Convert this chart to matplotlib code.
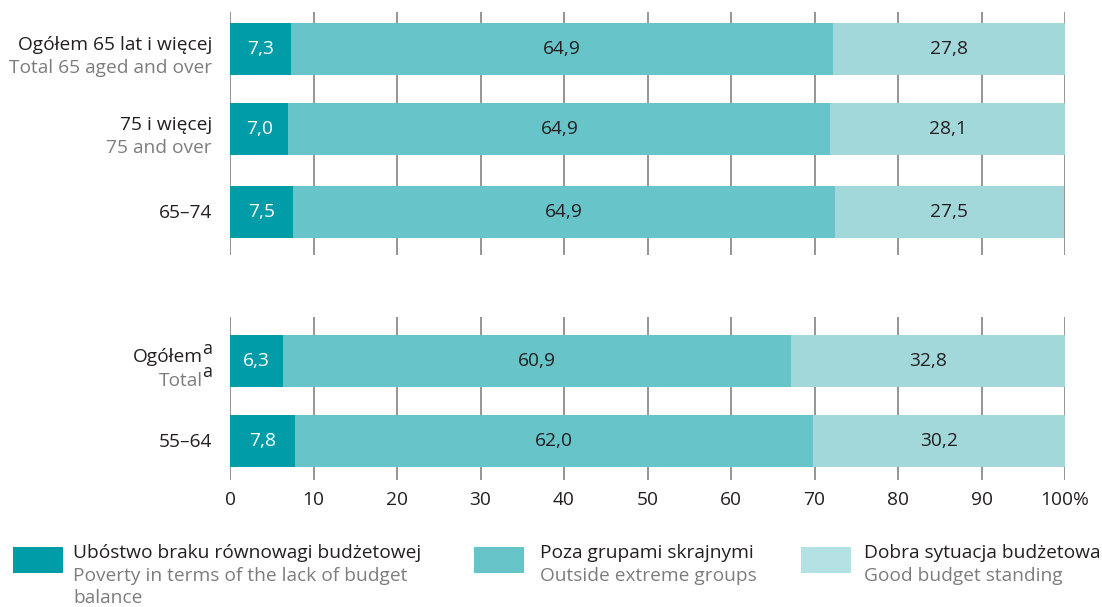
import matplotlib
matplotlib.use("Agg")
import matplotlib.pyplot as plt
from matplotlib.patches import Rectangle

plt.rcParams['font.family'] = ['Open Sans', 'DejaVu Sans']

# data
labels_pl = ["Ogółem 65 lat i więcej", "75 i więcej", "65–74", "Ogółem", "55–64"]
labels_en = ["Total 65 aged and over", "75 and over", "", "Total", ""]
footnote = ["", "", "", "a", ""]
poverty = [7.3, 7.0, 7.5, 6.3, 7.8]
outside = [64.9, 64.9, 64.9, 60.9, 62.0]
good = [27.8, 28.1, 27.5, 32.8, 30.2]
ticks = [0, 10, 20, 30, 40, 50, 60, 70, 80, 90, 100]
tick_labels = ["0", "10", "20", "30", "40", "50", "60", "70", "80", "90", "100%"]
legend_pl = ["Ubóstwo braku równowagi budżetowej", "Poza grupami skrajnymi", "Dobra sytuacja budżetowa"]
legend_en = ["Poverty in terms of the lack of budget\nbalance", "Outside extreme groups", "Good budget standing"]

c_dark = "#009ca8"
c_mid = "#67c4c9"
c_light = "#a3d8db"
c_legend_light = "#b4e1e4"
txt_dark = "#231f20"
txt_grey = "#7d7d7d"
grid_c = "#8c8c8c"
fs = 13.8

W, H = 1102, 607
fig = plt.figure(figsize=(W / 100, H / 100), dpi=100)

# row positions (gap between two groups)
ypos = [0, 0.99, 2.02, 3.88, 4.87]
unit = 80.5
top_px, bot_px, first_px = 12, 480, 49
ylim_top = -(first_px - top_px) / unit
ylim_bot = (bot_px - first_px) / unit

ax = fig.add_axes([230 / W, 1 - bot_px / H, (1065 - 230) / W, (bot_px - top_px) / H])
ax.set_xlim(0, 100)
ax.set_ylim(ylim_bot, ylim_top)
for s in ax.spines.values():
    s.set_visible(False)
ax.set_yticks([])
ax.set_xticks(ticks)
ax.set_xticklabels(tick_labels, fontsize=fs, color=txt_dark)
ax.tick_params(axis='x', length=0, pad=8)

# broken gridlines
brk1 = (255 - first_px) / unit
brk2 = (317 - first_px) / unit
ax.vlines(ticks, ylim_top, brk1, color=grid_c, lw=1.3, zorder=0)
ax.vlines(ticks, brk2, ylim_bot, color=grid_c, lw=1.3, zorder=0)

bh = 52 / unit
left2 = [a + b for a, b in zip(poverty, outside)]
ax.barh(ypos, poverty, height=bh, color=c_dark, zorder=2)
ax.barh(ypos, outside, left=poverty, height=bh, color=c_mid, zorder=2)
ax.barh(ypos, good, left=left2, height=bh, color=c_light, zorder=2)

def fmt(v):
    return f"{v:.1f}".replace(".", ",")

for i, y in enumerate(ypos):
    ax.text(poverty[i] / 2, y, fmt(poverty[i]), ha='center', va='center', color='white', fontsize=fs)
    ax.text(poverty[i] + outside[i] / 2, y, fmt(outside[i]), ha='center', va='center', color=txt_dark, fontsize=fs)
    ax.text(left2[i] + good[i] / 2, y, fmt(good[i]), ha='center', va='center', color=txt_dark, fontsize=fs)
    sx = -13
    if footnote[i]:
        ax.annotate(footnote[i], xy=(0, y), xytext=(-13, 9), textcoords='offset points',
                    ha='right', va='center', fontsize=fs - 1, color=txt_dark)
        ax.annotate(footnote[i], xy=(0, y), xytext=(-13, -8), textcoords='offset points',
                    ha='right', va='center', fontsize=fs - 1, color=txt_dark)
        sx = -19.5
    if labels_en[i]:
        ax.annotate(labels_pl[i], xy=(0, y), xytext=(sx, 3), textcoords='offset points',
                    ha='right', va='center', fontsize=fs, color=txt_dark)
        ax.annotate(labels_en[i], xy=(0, y), xytext=(sx, -14), textcoords='offset points',
                    ha='right', va='center', fontsize=fs, color=txt_grey)
    else:
        ax.annotate(labels_pl[i], xy=(0, y), xytext=(sx, -1), textcoords='offset points',
                    ha='right', va='center', fontsize=fs, color=txt_dark)

# legend
leg_colors = [c_dark, c_mid, c_legend_light]
patch_x = [13, 474, 801]
text_x = [73, 540, 864]
for i in range(3):
    fig.add_artist(Rectangle((patch_x[i] / W, 1 - 573 / H), 50 / W, 26 / H,
                             transform=fig.transFigure, color=leg_colors[i], lw=0))
    fig.text(text_x[i] / W, 1 - 553 / H, legend_pl[i], ha='left', va='center', fontsize=fs, color=txt_dark)
    fig.text(text_x[i] / W, 1 - 567 / H, legend_en[i], ha='left', va='top', fontsize=fs,
             color=txt_grey, linespacing=1.3)

fig.savefig("out.png", dpi=100)
